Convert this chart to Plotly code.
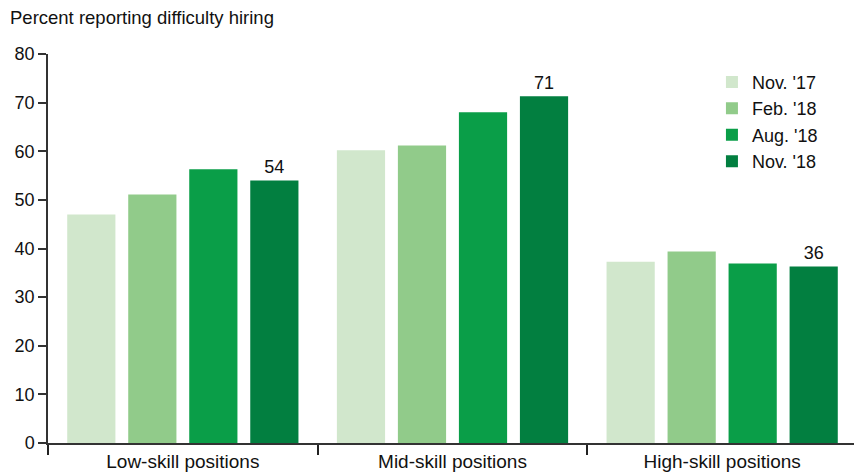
import plotly.graph_objects as go

categories = ["Low-skill positions", "Mid-skill positions", "High-skill positions"]
series_names = ["Nov. '17", "Feb. '18", "Aug. '18", "Nov. '18"]
nov17 = [47.0, 60.2, 37.3]
feb18 = [51.1, 61.2, 39.4]
aug18 = [56.3, 68.0, 36.9]
nov18 = [54.0, 71.3, 36.3]
nov18_labels = ["54", "71", "36"]
colors = ["#d1e7cc", "#91cb8a", "#0a9e48", "#027f40"]

font_family = "Liberation Sans, Arial, Helvetica, sans-serif"

fig = go.Figure()
for name, vals, col in zip(series_names, [nov17, feb18, aug18, nov18], colors):
    kw = {}
    if name == "Nov. '18":
        kw = dict(text=nov18_labels, textposition="outside", cliponaxis=False,
                  textfont=dict(size=18, color="#111"))
    fig.add_trace(go.Bar(x=categories, y=vals, name=name, marker=dict(color=col, line=dict(width=0)),
                         hoverinfo="skip", **kw))

# the page body has an 8px margin, so the figure is 8px smaller than the window
fig.update_layout(
    width=854, height=468,
    margin=dict(l=40, r=5, t=46, b=33, autoexpand=False),
    paper_bgcolor="white", plot_bgcolor="white",
    barmode="group", bargap=0.095, bargroupgap=0.21,
    font=dict(family=font_family, size=18, color="#111"),
    showlegend=True,
    legend=dict(x=0.8207, y=0.975, xanchor="left", yanchor="top", bgcolor="rgba(0,0,0,0)",
                font=dict(size=18), tracegroupgap=0, itemwidth=30),
    annotations=[dict(text="Percent reporting difficulty hiring", xref="paper", yref="paper",
                      x=-0.0494, y=1.095, xanchor="left", yanchor="middle", showarrow=False,
                      font=dict(size=18.5, color="#111"))],
)
fig.update_xaxes(type="category", range=[-0.5, 2.5], showline=True, linecolor="#333", linewidth=1.5,
                 ticks="outside", tickson="boundaries", ticklen=10, tickcolor="#222", tickwidth=1.5,
                 showgrid=False, zeroline=False, tickfont=dict(size=19), automargin=False)
fig.update_yaxes(range=[0, 80], dtick=10, showline=True, linecolor="#333", linewidth=1.5,
                 ticks="outside", ticklen=8, tickcolor="#333", tickwidth=1.5,
                 showgrid=False, zeroline=False, tickfont=dict(size=18), automargin=False)

fig.write_html("out.html")
